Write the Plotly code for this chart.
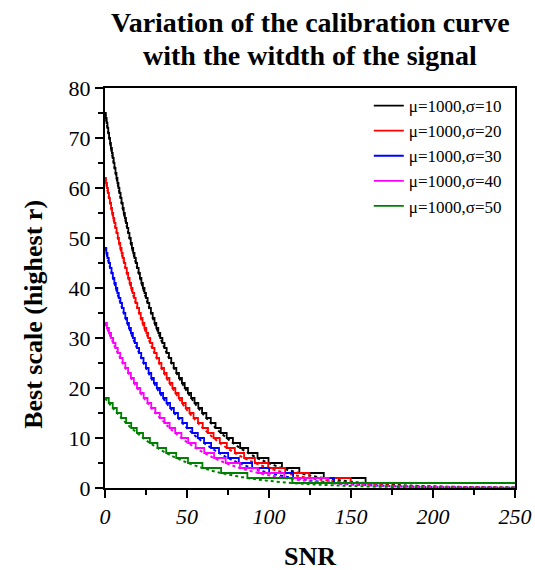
import plotly.graph_objects as go

# ---------------- data ----------------
series_names = ["μ=1000,σ=10", "μ=1000,σ=20", "μ=1000,σ=30", "μ=1000,σ=40", "μ=1000,σ=50"]
series_colors = ["#000000", "#FF0000", "#0000FF", "#FF00FF", "#008000"]

# starting (SNR = 0) best scale of each staircase
start_levels = [75, 62, 48, 33, 18]

# SNR at which each staircase drops by one unit (level start-1, start-2, ..., 1)
drops_s10 = [0.5, 1.0, 1.5, 2.0, 2.5, 3.1, 3.6, 4.2, 4.7, 5.3, 5.8, 6.4, 7.0, 7.6, 8.2, 8.8,
             9.5, 10.1, 10.8, 11.4, 12.1, 12.8, 13.5, 14.2, 14.9, 15.7, 16.4, 17.2, 18.0, 18.8,
             19.6, 20.5, 21.3, 22.2, 23.1, 24.1, 25.0, 26.0, 27.0, 28.0, 29.1, 30.2, 31.3, 32.5,
             33.7, 35.0, 36.3, 37.6, 39.0, 40.4, 41.9, 43.5, 45.1, 46.9, 48.6, 50.5, 52.5, 54.6,
             56.9, 59.2, 61.8, 64.5, 67.4, 70.6, 74.2, 78.0, 82.4, 87.3, 93.0, 99.7, 107.9,
             118.5, 133.4, 158.9]
drops_s20 = [0.6, 1.2, 1.8, 2.4, 3.0, 3.7, 4.3, 5.0, 5.7, 6.4, 7.1, 7.8, 8.5, 9.3, 10.1, 10.8,
             11.6, 12.4, 13.3, 14.1, 15.0, 15.9, 16.8, 17.8, 18.7, 19.7, 20.8, 21.8, 22.9, 24.0,
             25.2, 26.3, 27.6, 28.9, 30.2, 31.5, 33.0, 34.4, 36.0, 37.6, 39.3, 41.1, 42.9, 44.9,
             47.0, 49.2, 51.5, 54.0, 56.7, 59.6, 62.8, 66.2, 70.0, 74.3, 79.2, 84.8, 91.4, 99.5,
             109.9, 124.6, 149.8]
drops_s30 = [0.8, 1.5, 2.3, 3.1, 4.0, 4.8, 5.7, 6.6, 7.5, 8.4, 9.4, 10.4, 11.4, 12.4, 13.5,
             14.6, 15.8, 17.0, 18.2, 19.5, 20.8, 22.1, 23.5, 25.0, 26.6, 28.2, 29.8, 31.6, 33.5,
             35.4, 37.5, 39.7, 42.0, 44.5, 47.2, 50.0, 53.2, 56.6, 60.4, 64.7, 69.5, 75.1, 81.6,
             89.7, 100.1, 114.7, 139.7]
drops_s40 = [1.2, 2.4, 3.7, 5.0, 6.4, 7.8, 9.3, 10.8, 12.4, 14.1, 15.8, 17.6, 19.5, 21.5, 23.6,
             25.9, 28.2, 30.7, 33.4, 36.3, 39.4, 42.8, 46.6, 50.7, 55.3, 60.5, 66.5, 73.6, 82.3,
             93.5, 109.3, 136.4]
drops_s50 = [2.3, 4.7, 7.2, 9.9, 12.9, 16.0, 19.4, 23.2, 27.4, 32.0, 37.3, 43.4, 50.6, 59.4,
             70.8, 86.8, 114.2]
drops_all = [drops_s10, drops_s20, drops_s30, drops_s40, drops_s50]

# dotted fitted curves, sampled along SNR
fit_snr = [0, 5, 10, 15, 20, 25, 30, 35, 40, 50, 60, 70, 80, 90, 100, 115, 130, 150, 175, 200, 250]
fit_s10 = [75.0, 65.5, 57.2, 49.9, 43.6, 38.0, 33.2, 29.0, 25.3, 19.3, 14.7, 11.2, 8.53, 6.50,
           4.95, 3.29, 2.19, 1.27, 0.65, 0.33, 0.08]
fit_s20 = [62.0, 54.0, 47.1, 41.0, 35.7, 31.1, 27.1, 23.6, 20.6, 15.6, 11.9, 9.01, 6.84, 5.20,
           3.95, 2.61, 1.73, 1.00, 0.50, 0.25, 0.06]
fit_s30 = [48.0, 41.8, 36.4, 31.7, 27.6, 24.0, 20.9, 18.2, 15.9, 12.0, 9.11, 6.90, 5.23, 3.97,
           3.01, 1.99, 1.31, 0.75, 0.38, 0.19, 0.05]
fit_s40 = [33.0, 29.0, 25.5, 22.5, 19.8, 17.4, 15.3, 13.5, 11.8, 9.16, 7.09, 5.48, 4.24, 3.28,
           2.54, 1.73, 1.18, 0.71, 0.37, 0.20, 0.05]
fit_s50 = [18.0, 15.9, 14.0, 12.3, 10.9, 9.56, 8.42, 7.42, 6.54, 5.08, 3.94, 3.06, 2.38, 1.84,
           1.43, 0.98, 0.67, 0.40, 0.21, 0.11, 0.03]
fits_all = [fit_s10, fit_s20, fit_s30, fit_s40, fit_s50]

x_tick_vals = [0, 50, 100, 150, 200, 250]
y_tick_vals = [0, 10, 20, 30, 40, 50, 60, 70, 80]
x_max = 250
y_max = 80

title_lines = ["Variation of the calibration curve", "with the witdth of the signal"]
x_title = "SNR"
y_title = "Best scale (highest r)"

# ---------------- figure ----------------
SERIF = "Times New Roman, Liberation Serif, serif"
fig = go.Figure()

# dotted fits first (below)
for fit, col in zip(fits_all, series_colors):
    fig.add_trace(go.Scatter(
        x=fit_snr, y=fit, mode="lines", showlegend=False, hoverinfo="skip",
        line=dict(color=col, width=2, dash="dot", shape="spline", smoothing=1.0)))

# staircases
for name, col, a, drops in zip(series_names, series_colors, start_levels, drops_all):
    xs = [0] + drops + [x_max]
    ys = [a] + list(range(a - 1, 0, -1)) + [1]
    fig.add_trace(go.Scatter(
        x=xs, y=ys, mode="lines", name=name,
        line=dict(color=col, width=1.8, shape="hv")))

axis_common = dict(
    showgrid=False, zeroline=False, showline=True, linecolor="black", linewidth=2,
    mirror=True, ticks="outside", ticklen=8, tickwidth=1.5, tickcolor="black",
    automargin=False,
)

annotations = [
    dict(text="<b>" + title_lines[0] + "</b>", x=0.5, y=1.16375, xref="paper", yref="paper",
         xanchor="center", yanchor="middle", showarrow=False,
         font=dict(family=SERIF, size=28, color="black")),
    dict(text="<b>" + title_lines[1] + "</b>", x=0.5, y=1.08, xref="paper", yref="paper",
         xanchor="center", yanchor="middle", showarrow=False,
         font=dict(family=SERIF, size=28, color="black")),
    dict(text="<b>" + x_title + "</b>", x=0.5, y=-0.17, xref="paper", yref="paper",
         xanchor="center", yanchor="middle", showarrow=False,
         font=dict(family=SERIF, size=26, color="black")),
    dict(text="<b>" + y_title + "</b>", x=-0.176, y=0.435, xref="paper", yref="paper",
         xanchor="center", yanchor="middle", showarrow=False, textangle=-90,
         font=dict(family=SERIF, size=26, color="black")),
]

fig.update_layout(
    width=535, height=570,
    margin=dict(l=105, r=20, t=88, b=82, autoexpand=False),
    paper_bgcolor="white", plot_bgcolor="white",
    font=dict(family=SERIF, color="black"),
    annotations=annotations,
    xaxis=dict(
        range=[0, x_max], tickvals=x_tick_vals,
        tickfont=dict(family=SERIF, size=22, style="italic"),
        minor=dict(dtick=25, ticks="outside", ticklen=5, tickwidth=1.5, tickcolor="black"),
        **axis_common),
    yaxis=dict(
        range=[0, y_max], tickvals=y_tick_vals,
        tickfont=dict(family=SERIF, size=22),
        minor=dict(dtick=5, ticks="outside", ticklen=5, tickwidth=1.5, tickcolor="black"),
        **axis_common),
    legend=dict(
        x=0.980, xanchor="right", y=1, yanchor="top",
        bgcolor="rgba(0,0,0,0)", borderwidth=0,
        font=dict(family=SERIF, size=17, color="black"),
        tracegroupgap=0),
)

fig.write_html("out.html")
